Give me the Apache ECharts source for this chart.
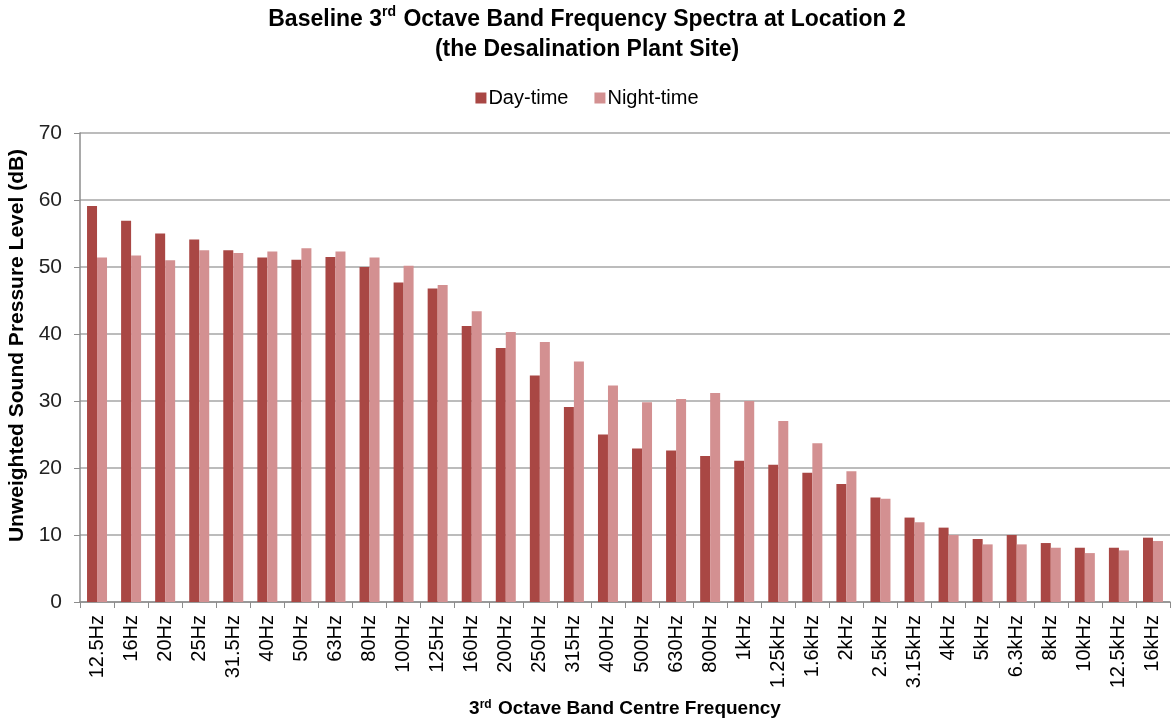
<!DOCTYPE html>
<html style="height: 100%;">
<head>
<meta charset="utf-8">
<title>Baseline 3rd Octave Band Frequency Spectra at Location 2</title>
<script src="https://cdn.jsdelivr.net/npm/echarts@6/dist/echarts.min.js"></script>
</head>
<body style="height: 100%; margin: 0; background: #fff;">
<div id="container" style="width: 1174px; height: 724px;"></div>
<script type="text/javascript">
var bands = ['12.5Hz', '16Hz', '20Hz', '25Hz', '31.5Hz', '40Hz', '50Hz', '63Hz', '80Hz', '100Hz',
  '125Hz', '160Hz', '200Hz', '250Hz', '315Hz', '400Hz', '500Hz', '630Hz', '800Hz', '1kHz',
  '1.25kHz', '1.6kHz', '2kHz', '2.5kHz', '3.15kHz', '4kHz', '5kHz', '6.3kHz', '8kHz', '10kHz',
  '12.5kHz', '16kHz'];
var dayTime = [59.1, 56.9, 55.0, 54.1, 52.5, 51.4, 51.1, 51.5, 50.0, 47.7,
  46.8, 41.2, 37.9, 33.8, 29.1, 25.0, 22.9, 22.6, 21.8, 21.1,
  20.5, 19.3, 17.6, 15.6, 12.6, 11.1, 9.4, 10.0, 8.8, 8.1,
  8.1, 9.6];
var nightTime = [51.4, 51.7, 51.0, 52.5, 52.1, 52.3, 52.8, 52.3, 51.4, 50.2,
  47.3, 43.4, 40.3, 38.8, 35.9, 32.3, 29.8, 30.3, 31.2, 30.0,
  27.0, 23.7, 19.5, 15.4, 11.9, 10.0, 8.6, 8.6, 8.1, 7.3,
  7.7, 9.1];

var font = '"Liberation Sans Narrow", "Arial Narrow", "Liberation Sans", sans-serif';
var myChart = echarts.init(document.getElementById('container'));

var option = {
  animation: false,
  textStyle: { fontFamily: font },
  title: {
    left: 'center',
    top: 0,
    text: '{t|Baseline 3}{s|rd}{t| Octave Band Frequency Spectra at Location 2}\n{t|(the Desalination Plant Site)}',
    textStyle: {
      rich: {
        t: { fontFamily: font, fontSize: 23, fontWeight: 'bold', color: '#000', lineHeight: 30 },
        s: { fontFamily: font, fontSize: 14, fontWeight: 'bold', color: '#000', verticalAlign: 'top', lineHeight: 30, padding: [0, 1, 9, 0] }
      }
    }
  },
  legend: {
    top: 83,
    left: 'center',
    itemWidth: 11,
    itemHeight: 11,
    itemGap: 26,
    icon: 'rect',
    textStyle: { fontFamily: font, fontSize: 20, color: '#000', padding: [0, 0, 0, -3] },
    data: ['Day-time', 'Night-time']
  },
  grid: { left: 80, right: 4, top: 133, bottom: 122, outerBoundsMode: 'none', containLabel: false },
  xAxis: {
    type: 'category',
    data: bands,
    name: '{t|3}{s|rd}{t| Octave Band Centre Frequency}',
    nameLocation: 'middle',
    nameGap: 97,
    nameTextStyle: {
      rich: {
        t: { fontFamily: font, fontSize: 19, fontWeight: 'bold', color: '#000' },
        s: { fontFamily: font, fontSize: 12, fontWeight: 'bold', color: '#000', verticalAlign: 'top', padding: [0, 1, 7, 0] }
      }
    },
    axisLine: { lineStyle: { color: '#8c8c8c', width: 1.5 } },
    axisTick: { show: true, length: 6, lineStyle: { color: '#8c8c8c' } },
    axisLabel: { rotate: 90, fontSize: 20, color: '#000', margin: 13, interval: 0 }
  },
  yAxis: {
    type: 'value',
    min: 0,
    max: 70,
    interval: 10,
    name: 'Unweighted Sound Pressure Level (dB)',
    nameLocation: 'middle',
    nameGap: 50,
    nameTextStyle: { fontFamily: font, fontSize: 21, fontWeight: 'bold', color: '#000', padding: [0, 0, 0, 44] },
    axisLine: { show: true, lineStyle: { color: '#8c8c8c', width: 1.5 } },
    axisTick: { show: true, length: 6, lineStyle: { color: '#8c8c8c' } },
    axisLabel: { fontSize: 21, color: '#222', margin: 18 },
    splitLine: { lineStyle: { color: '#a6a6a6', width: 1.5 } }
  },
  series: [
    {
      name: 'Day-time',
      type: 'bar',
      data: dayTime,
      barWidth: 10,
      barGap: '0%',
      itemStyle: { color: '#a94744' }
    },
    {
      name: 'Night-time',
      type: 'bar',
      data: nightTime,
      barWidth: 10,
      itemStyle: { color: '#d39091' }
    }
  ]
};
myChart.setOption(option);
</script>
</body>
</html>
